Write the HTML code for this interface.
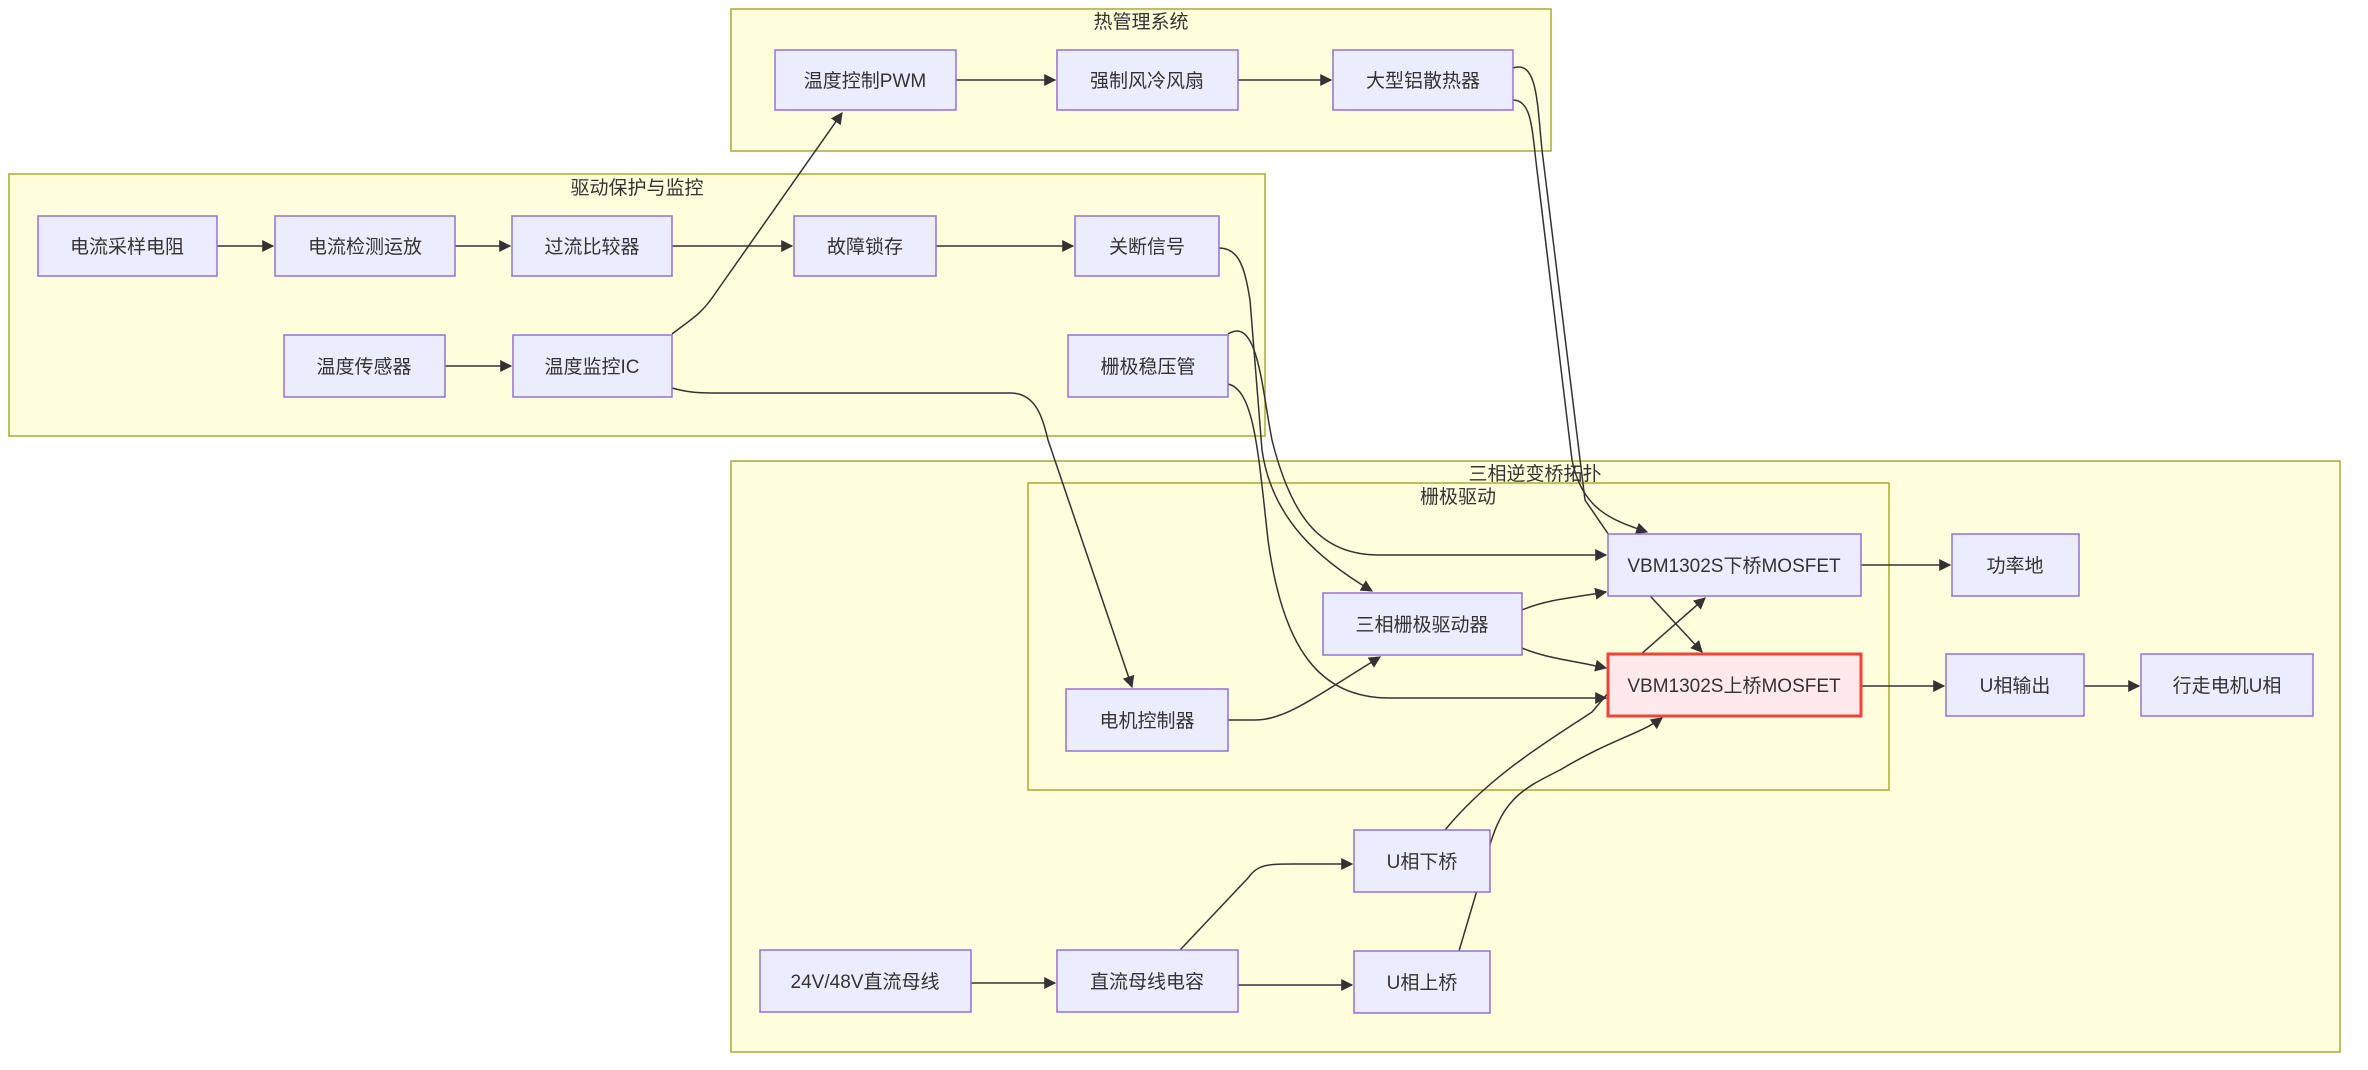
<!DOCTYPE html>
<html><head><meta charset="utf-8"><style>
html,body{margin:0;padding:0;background:#fff;}
svg{display:block;}
text{font-family:"Liberation Sans","Noto Sans CJK SC",sans-serif;font-size:19px;fill:#333;}
.cl{fill:#ffffde;stroke:#aaaa33;stroke-width:1.5;}
.nd{fill:#ececff;stroke:#9370db;stroke-width:1.5;}
.e{fill:none;stroke:#333;stroke-width:1.5;}
</style></head><body>
<svg width="2368" height="1070" viewBox="0 0 2368 1070" xmlns="http://www.w3.org/2000/svg">
<defs><marker id="a" viewBox="0 0 10 10" refX="9" refY="5" markerWidth="8" markerHeight="8" orient="auto-start-reverse"><path d="M0,0L10,5L0,10z" fill="#333"/></marker></defs>
<!-- clusters -->
<rect class="cl" x="731" y="9" width="820" height="142"/>
<text x="1141" y="28" text-anchor="middle">热管理系统</text>
<rect class="cl" x="9" y="174" width="1256" height="262"/>
<text x="637" y="194" text-anchor="middle">驱动保护与监控</text>
<rect class="cl" x="731" y="461" width="1609" height="591"/>
<text x="1535" y="480" text-anchor="middle">三相逆变桥拓扑</text>
<rect class="cl" x="1028" y="483" width="861" height="307"/>
<text x="1458" y="503" text-anchor="middle">栅极驱动</text>

<!-- edges -->
<g class="e" marker-end="url(#a)">
<path d="M956,80L1055,80"/>
<path d="M1238,80L1331,80"/>
<path d="M217,246L273,246"/>
<path d="M455,246L510,246"/>
<path d="M672,246L792,246"/>
<path d="M936,246L1073,246"/>
<path d="M445,366L511,366"/>
<path d="M672,334C690,320 700,315 712,298L842,113"/>
<path d="M672,388C690,393 700,393 720,393L1010,393C1035,393 1042,415 1048,440L1132,687"/>
<path d="M1219,248C1240,248 1245,270 1250,300L1262,450C1272,520 1320,560 1372,591"/>
<path d="M1228,334C1258,315 1262,390 1272,440C1292,520 1322,555 1380,555L1606,555"/>
<path d="M1228,384C1254,390 1258,450 1268,540C1283,650 1320,698 1390,698L1606,698"/>
<path d="M1513,68C1537,60 1537,100 1542,150L1585,500L1652,598L1702,652"/>
<path d="M1513,100C1532,100 1532,130 1537,170L1572,460C1582,510 1612,520 1647,532"/>
<path d="M1445,830C1490,775 1550,740 1592,712L1640,655L1705,598"/>
<path d="M1459,951L1486,860C1500,800 1520,790 1560,770C1610,740 1640,734 1662,718"/>
<path d="M1180,950L1248,878C1258,864 1268,864 1295,864L1352,864"/>
<path d="M1238,985L1352,985"/>
<path d="M971,983L1055,983"/>
<path d="M1522,610C1545,600 1570,598 1606,592"/>
<path d="M1522,648C1545,658 1570,660 1606,668"/>
<path d="M1228,720L1255,720C1285,720 1310,700 1380,657"/>
<path d="M1861,565L1950,565"/>
<path d="M1861,686L1944,686"/>
<path d="M2084,686L2139,686"/>
</g>

<!-- nodes -->
<g>
<rect class="nd" x="775" y="50" width="181" height="60"/><text x="865" y="87" text-anchor="middle">温度控制PWM</text>
<rect class="nd" x="1057" y="50" width="181" height="60"/><text x="1147" y="87" text-anchor="middle">强制风冷风扇</text>
<rect class="nd" x="1333" y="50" width="180" height="60"/><text x="1423" y="87" text-anchor="middle">大型铝散热器</text>

<rect class="nd" x="38" y="216" width="179" height="60"/><text x="127" y="253" text-anchor="middle">电流采样电阻</text>
<rect class="nd" x="275" y="216" width="180" height="60"/><text x="365" y="253" text-anchor="middle">电流检测运放</text>
<rect class="nd" x="512" y="216" width="160" height="60"/><text x="592" y="253" text-anchor="middle">过流比较器</text>
<rect class="nd" x="794" y="216" width="142" height="60"/><text x="865" y="253" text-anchor="middle">故障锁存</text>
<rect class="nd" x="1075" y="216" width="144" height="60"/><text x="1147" y="253" text-anchor="middle">关断信号</text>
<rect class="nd" x="284" y="335" width="161" height="62"/><text x="364" y="373" text-anchor="middle">温度传感器</text>
<rect class="nd" x="513" y="335" width="159" height="62"/><text x="592" y="373" text-anchor="middle">温度监控IC</text>
<rect class="nd" x="1068" y="335" width="160" height="62"/><text x="1148" y="373" text-anchor="middle">栅极稳压管</text>

<rect class="nd" x="1608" y="534" width="253" height="62"/><text x="1734" y="572" text-anchor="middle">VBM1302S下桥MOSFET</text>
<rect x="1608" y="654" width="253" height="62" fill="#ffe9ec" stroke="#f44336" stroke-width="3"/><text x="1734" y="692" text-anchor="middle">VBM1302S上桥MOSFET</text>
<rect class="nd" x="1952" y="534" width="127" height="62"/><text x="2015" y="572" text-anchor="middle">功率地</text>
<rect class="nd" x="1946" y="654" width="138" height="62"/><text x="2015" y="692" text-anchor="middle">U相输出</text>
<rect class="nd" x="2141" y="654" width="172" height="62"/><text x="2227" y="692" text-anchor="middle">行走电机U相</text>
<rect class="nd" x="1323" y="593" width="199" height="62"/><text x="1422" y="631" text-anchor="middle">三相栅极驱动器</text>
<rect class="nd" x="1066" y="689" width="162" height="62"/><text x="1147" y="727" text-anchor="middle">电机控制器</text>
<rect class="nd" x="1354" y="830" width="136" height="62"/><text x="1422" y="868" text-anchor="middle">U相下桥</text>
<rect class="nd" x="1354" y="951" width="136" height="62"/><text x="1422" y="989" text-anchor="middle">U相上桥</text>
<rect class="nd" x="760" y="950" width="211" height="62"/><text x="865" y="988" text-anchor="middle">24V/48V直流母线</text>
<rect class="nd" x="1057" y="950" width="181" height="62"/><text x="1147" y="988" text-anchor="middle">直流母线电容</text>
</g>
</svg>
</body></html>
